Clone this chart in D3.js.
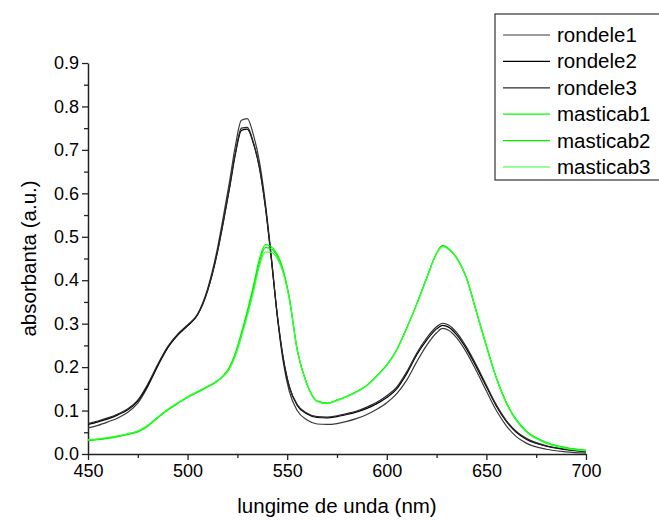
<!DOCTYPE html>
<html>
<head>
<meta charset="utf-8">
<script src="https://cdn.jsdelivr.net/npm/d3@7"></script>
<style>
  body { margin: 0; background: #fff; }
  text { font-family: "Liberation Sans", Arial, sans-serif; fill: #000; }
</style>
</head>
<body>
<div id="chart"></div>
<script>
// wavelengths (nm), shared by all series
const wavelengths = [450, 455, 460, 465, 470, 475, 480, 485, 490, 495, 500, 505, 510, 515, 518, 521, 524, 527, 530, 533,
  536, 539, 542, 545, 548, 551, 555, 560, 565, 570, 575, 580, 585, 590, 595, 600, 605, 610, 615, 620,
  625, 628, 631, 635, 640, 645, 650, 655, 660, 665, 670, 680, 690, 700];

const rondele1 = [0.060, 0.066, 0.074, 0.083, 0.096, 0.117, 0.155, 0.202, 0.244, 0.273, 0.296, 0.322, 0.380, 0.474, 0.548, 0.626, 0.710, 0.768, 0.772, 0.735,
  0.675, 0.580, 0.455, 0.318, 0.212, 0.145, 0.100, 0.078, 0.069, 0.068, 0.070, 0.075, 0.082, 0.091, 0.103, 0.118, 0.139, 0.170, 0.212, 0.250,
  0.279, 0.289, 0.285, 0.268, 0.234, 0.191, 0.145, 0.100, 0.065, 0.040, 0.025, 0.011, 0.005, 0.002];
const rondele2 = [0.068, 0.074, 0.081, 0.090, 0.102, 0.122, 0.158, 0.204, 0.245, 0.274, 0.295, 0.320, 0.375, 0.465, 0.535, 0.610, 0.690, 0.745, 0.748, 0.715,
  0.660, 0.570, 0.450, 0.320, 0.220, 0.155, 0.112, 0.092, 0.084, 0.083, 0.086, 0.091, 0.097, 0.105, 0.116, 0.130, 0.150, 0.185, 0.228, 0.262,
  0.288, 0.296, 0.292, 0.275, 0.242, 0.200, 0.155, 0.110, 0.075, 0.050, 0.034, 0.018, 0.010, 0.005];
const rondele3 = [0.070, 0.076, 0.083, 0.092, 0.104, 0.124, 0.161, 0.206, 0.247, 0.276, 0.297, 0.321, 0.376, 0.466, 0.537, 0.613, 0.694, 0.750, 0.752, 0.718,
  0.662, 0.571, 0.452, 0.322, 0.222, 0.157, 0.114, 0.094, 0.086, 0.085, 0.088, 0.093, 0.099, 0.108, 0.119, 0.134, 0.154, 0.189, 0.232, 0.267,
  0.293, 0.301, 0.297, 0.280, 0.246, 0.204, 0.158, 0.113, 0.077, 0.052, 0.036, 0.019, 0.011, 0.006];

const masticab1 = [0.031, 0.033, 0.036, 0.040, 0.045, 0.051, 0.064, 0.083, 0.101, 0.116, 0.130, 0.142, 0.154, 0.168, 0.181, 0.200, 0.233, 0.279, 0.330, 0.387,
  0.448, 0.482, 0.477, 0.460, 0.424, 0.362, 0.242, 0.160, 0.122, 0.117, 0.124, 0.133, 0.144, 0.158, 0.180, 0.205, 0.240, 0.290, 0.345, 0.405,
  0.462, 0.480, 0.473, 0.452, 0.405, 0.328, 0.250, 0.176, 0.119, 0.079, 0.053, 0.027, 0.015, 0.009];
const masticab2 = [0.032, 0.034, 0.037, 0.041, 0.046, 0.052, 0.065, 0.084, 0.102, 0.117, 0.131, 0.143, 0.155, 0.168, 0.180, 0.198, 0.230, 0.275, 0.325, 0.380,
  0.440, 0.475, 0.472, 0.455, 0.420, 0.360, 0.240, 0.160, 0.122, 0.117, 0.124, 0.133, 0.144, 0.158, 0.180, 0.205, 0.240, 0.290, 0.345, 0.405,
  0.462, 0.479, 0.472, 0.452, 0.405, 0.327, 0.248, 0.175, 0.118, 0.078, 0.052, 0.026, 0.014, 0.008];
const masticab3 = [0.033, 0.035, 0.038, 0.042, 0.047, 0.053, 0.066, 0.085, 0.103, 0.118, 0.132, 0.144, 0.156, 0.169, 0.179, 0.196, 0.226, 0.270, 0.318, 0.372,
  0.432, 0.465, 0.464, 0.450, 0.417, 0.358, 0.239, 0.159, 0.121, 0.116, 0.123, 0.132, 0.143, 0.157, 0.179, 0.204, 0.239, 0.289, 0.344, 0.404,
  0.461, 0.478, 0.471, 0.451, 0.404, 0.326, 0.247, 0.174, 0.117, 0.077, 0.051, 0.025, 0.013, 0.007];

const seriesNames = ["rondele1", "rondele2", "rondele3", "masticab1", "masticab2", "masticab3"];
const seriesValues = [rondele1, rondele2, rondele3, masticab1, masticab2, masticab3];
const seriesColors = ["#3a3a3a", "#000000", "#2a2a2a", "#00ff00", "#00ee00", "#33ff33"];

const xTicks = [450, 500, 550, 600, 650, 700];
const yTicks = [0, 0.1, 0.2, 0.3, 0.4, 0.5, 0.6, 0.7, 0.8, 0.9];

const W = 659, H = 521;
const margin = { top: 63, right: 73, bottom: 67, left: 88 };
const width = W - margin.left - margin.right;
const height = H - margin.top - margin.bottom;

const svg = d3.select("#chart").append("svg")
  .attr("width", W)
  .attr("height", H);

const g = svg.append("g")
  .attr("transform", "translate(" + margin.left + "," + margin.top + ")");

const x = d3.scaleLinear().domain([450, 700]).range([0, width]);
const y = d3.scaleLinear().domain([0, 0.9]).range([height, 0]);

// minor ticks
const xMinor = d3.range(475, 700, 50);
const yMinor = d3.range(0.05, 0.9, 0.1);

g.append("g")
  .attr("transform", "translate(0," + height + ")")
  .call(d3.axisBottom(x).tickValues(xMinor).tickSize(4).tickFormat(""))
  .call(a => a.select(".domain").remove());
g.append("g")
  .call(d3.axisLeft(y).tickValues(yMinor).tickSize(4).tickFormat(""))
  .call(a => a.select(".domain").remove());

const xAxis = g.append("g")
  .attr("transform", "translate(0," + height + ")")
  .call(d3.axisBottom(x).tickValues(xTicks).tickSize(6).tickSizeOuter(0).tickPadding(4).tickFormat(d3.format("d")));
const yAxis = g.append("g")
  .call(d3.axisLeft(y).tickValues(yTicks).tickSize(6).tickSizeOuter(0).tickPadding(3).tickFormat(d3.format(".1f")));

[xAxis, yAxis].forEach(a => {
  a.selectAll("text").style("font-size", "18px").attr("fill", "#000");
  a.select(".domain").attr("stroke", "#222").attr("stroke-width", 1.5);
});
g.selectAll(".tick line").attr("stroke", "#222").attr("stroke-width", 1.3);

// curves
const line = d3.line()
  .x((d, i) => x(wavelengths[i]))
  .y(d => y(d))
  .curve(d3.curveMonotoneX);

seriesValues.forEach((vals, k) => {
  g.append("path")
    .datum(vals)
    .attr("fill", "none")
    .attr("stroke", seriesColors[k])
    .attr("stroke-width", 1.2)
    .attr("d", line);
});

// axis titles
svg.append("text")
  .attr("x", margin.left + width / 2)
  .attr("y", 513)
  .attr("text-anchor", "middle")
  .style("font-size", "20.5px")
  .text("lungime de unda (nm)");

svg.append("text")
  .attr("transform", "translate(" + 36 + "," + (margin.top + height / 2) + ") rotate(-90)")
  .attr("text-anchor", "middle")
  .style("font-size", "20.5px")
  .text("absorbanta (a.u.)");

// legend
const legend = svg.append("g").attr("transform", "translate(495,14)");
legend.append("rect")
  .attr("x", 0).attr("y", 0)
  .attr("width", 170).attr("height", 166)
  .attr("fill", "#fff")
  .attr("stroke", "#333")
  .attr("stroke-width", 1.2);

seriesNames.forEach((name, k) => {
  const row = legend.append("g").attr("transform", "translate(0," + (21 + k * 26.4) + ")");
  row.append("line")
    .attr("x1", 8).attr("x2", 55)
    .attr("y1", 0).attr("y2", 0)
    .attr("stroke", seriesColors[k])
    .attr("stroke-width", 1.2);
  row.append("text")
    .attr("x", 62)
    .attr("y", 7)
    .style("font-size", "20.5px")
    .text(name);
});
</script>
</body>
</html>
